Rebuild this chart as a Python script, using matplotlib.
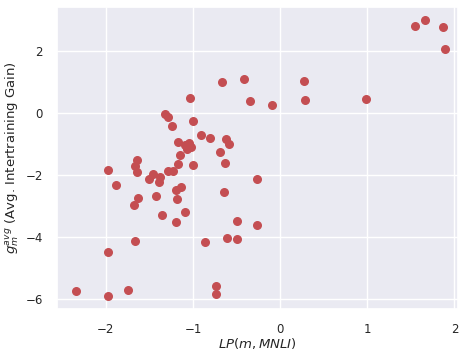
import matplotlib
matplotlib.use("Agg")
import matplotlib.pyplot as plt
import seaborn as sns

# LP(m, MNLI) vs avg intertraining gain
lp = [-0.665, -0.41, -0.344, -1.032, -1.322, -1.29, -1.245, -1.00, -0.91, -0.80,
      -0.62, -0.585, -1.17, -1.087, -1.047, -1.024, -1.07, -0.69, -1.15, -1.00,
      -0.634, -1.17, -1.227, -1.29, -1.647, -1.66, -1.647, -1.97, -1.884, -1.463,
      -1.506, -1.38, -1.388, -1.142, -1.196, -1.63, -1.68, -1.425, -1.188, -1.35,
      -1.086, -1.20, -1.666, -0.642, -0.26, -0.493, -0.26, -0.608, -0.493, -0.86,
      -1.98, -2.346, -1.98, -1.744, -0.73, -0.73, -0.09, 0.27, 0.28, 0.98,
      1.55, 1.66, 1.866, 1.89]
gain = [1.00, 1.11, 0.40, 0.50, -0.03, -0.13, -0.41, -0.24, -0.70, -0.80,
        -0.82, -0.99, -0.91, -1.02, -0.97, -1.09, -1.15, -1.23, -1.34, -1.65,
        -1.59, -1.62, -1.85, -1.86, -1.51, -1.69, -1.89, -1.81, -2.30, -1.97,
        -2.12, -2.05, -2.22, -2.36, -2.47, -2.74, -2.94, -2.65, -2.76, -3.29,
        -3.18, -3.50, -4.12, -2.55, -2.13, -3.47, -3.61, -4.03, -4.06, -4.16,
        -4.48, -5.72, -5.88, -5.70, -5.57, -5.83, 0.26, 1.05, 0.42, 0.47,
        2.83, 3.01, 2.78, 2.08]

sns.set_theme(style="darkgrid", color_codes=True)

fig, ax = plt.subplots(figsize=(4.59, 3.52), dpi=100)
fig.subplots_adjust(left=0.124, right=0.998, top=0.981, bottom=0.122)

ax.scatter(lp, gain, color="r", s=30)

ax.set_xlim(-2.561, 2.042)
ax.set_ylim(-6.31, 3.44)
ax.set_xticks([-2, -1, 0, 1, 2])
ax.set_yticks([-6, -4, -2, 0, 2])
ax.tick_params(labelsize=8.5, pad=4)
ax.set_xlabel(r"$LP(m, MNLI)$", fontsize=9.5, labelpad=0)
ax.set_ylabel(r"$g_m^{avg}$ (Avg. Intertraining Gain)", fontsize=9.5, labelpad=3)

fig.savefig("out.png", dpi=100)
